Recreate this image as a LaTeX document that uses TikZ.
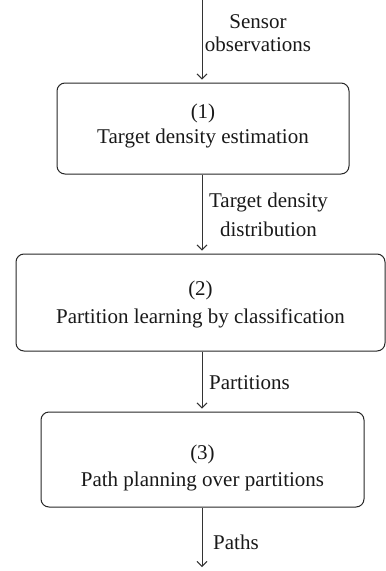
\documentclass[tikz,border=0pt]{standalone}
\usepackage{fontspec}
\setmainfont{Liberation Serif}
\usetikzlibrary{arrows.meta}
\begin{document}
\begin{tikzpicture}[x=1pt,y=-1pt,
  box/.style={draw=black!85, line width=1pt, rounded corners=8pt, inner sep=0pt},
  txt/.style={font=\fontsize{21}{26}\selectfont, align=center, inner sep=0pt, text=black!90},
  flow/.style={draw=black!80, line width=0.9pt, -{Straight Barb[length=5pt,width=10pt]}}]
\useasboundingbox (0,0) rectangle (386,571);
% boxes
\node[box, minimum width=292pt, minimum height=91pt] (b1) at (203,128.5) {};
\node[box, minimum width=369pt, minimum height=97pt] (b2) at (200.5,302.5) {};
\node[box, minimum width=323pt, minimum height=95pt] (b3) at (202.5,459.5) {};
% box texts
\node[txt] (t1) at (203,125.5) {(1)\\[-1pt]Target density estimation};
\node[txt] (t2) at (200.5,304) {(2)\\[2pt]Partition learning by classification};
\node[txt] (t3) at (202.5,467.5) {(3)\\[1pt]Path planning over partitions};
% connector ends
\coordinate (top) at (202,0);
\coordinate (bot) at (202,567);
% arrows
\draw[flow] (top) -- ([yshift=3pt]b1.north -| top);
\draw[flow] (b1.south -| top) -- ([yshift=3pt]b2.north -| top);
\draw[flow] (b2.south -| top) -- ([yshift=3pt]b3.north -| top);
\draw[flow] (b3.south -| top) -- (bot);
% labels
\node[txt] (l1) at (258,33.5) {Sensor\\[-3pt]observations};
\node[txt] (l2) at (268.5,214.5) {Target density\\[3pt]distribution};
\node[txt] (l3) at (249.5,383) {Partitions};
\node[txt] (l4) at (236,542) {Paths};
\end{tikzpicture}
\end{document}
